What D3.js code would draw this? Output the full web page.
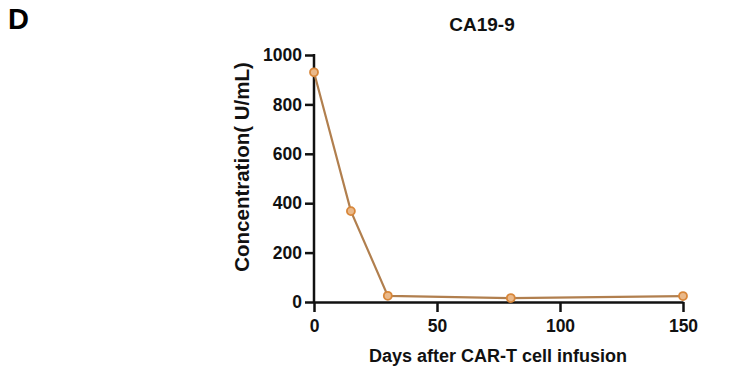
<!DOCTYPE html>
<html><head><meta charset="utf-8">
<script src="https://cdn.jsdelivr.net/npm/d3@7"></script>
<style>body{margin:0;background:#fff;}svg{display:block;font-family:Arial,"Liberation Sans",sans-serif;}</style>
</head><body><svg id="c" width="743" height="370"></svg>
<script>
const days = [0, 15, 30, 80, 150];
const conc = [930, 368, 25, 16, 24];
const xTicks = [0, 50, 100, 150];
const yTicks = [0, 200, 400, 600, 800, 1000];
const title = "CA19-9";
const xLabel = "Days after CAR-T cell infusion";
const yLabel = "Concentration( U/mL)";
const panel = "D";

const svg = d3.select("#c");
const x = d3.scaleLinear().domain([0, 150]).range([314, 683]);
const y = d3.scaleLinear().domain([0, 1000]).range([302, 55]);

const gx = svg.append("g").attr("transform", "translate(0,302)")
  .call(d3.axisBottom(x).tickValues(xTicks).tickFormat(d3.format("d")).tickSize(10).tickPadding(8).tickSizeOuter(0));
const gy = svg.append("g").attr("transform", "translate(314,0)")
  .call(d3.axisLeft(y).tickValues(yTicks).tickFormat(d3.format("d")).tickSize(9).tickPadding(3).tickSizeOuter(0));
[gx, gy].forEach(g => {
  g.select(".domain").attr("stroke", "#111").attr("stroke-width", 2.5);
  g.selectAll(".tick line").attr("stroke", "#111").attr("stroke-width", 2.5);
  g.selectAll(".tick text").attr("fill", "#111").style("font-size", "17.5px").style("font-weight", "bold");
});
gy.select(".domain").attr("d", `M0,${y(0)+1}V${y(1000)-1}`);

const line = d3.line().x((d, i) => x(days[i])).y(d => y(d));
svg.append("path").datum(conc).attr("d", line).attr("fill", "none")
  .attr("stroke", "#b17f4e").attr("stroke-width", 2.2);
svg.selectAll("circle.pt").data(conc).enter().append("circle")
  .attr("class", "pt").attr("cx", (d, i) => x(days[i])).attr("cy", d => y(d)).attr("r", 4)
  .attr("fill", "#eab98a").attr("stroke", "#d8873a").attr("stroke-width", 1.8);

svg.append("text").attr("x", 482).attr("y", 31).attr("text-anchor", "middle")
  .style("font-size", "19px").style("font-weight", "bold").attr("fill", "#111").text(title);
svg.append("text").attr("x", 498).attr("y", 362).attr("text-anchor", "middle")
  .style("font-size", "18px").style("font-weight", "bold").attr("fill", "#111").text(xLabel);
svg.append("text").attr("transform", "translate(249,167) rotate(-90)").attr("text-anchor", "middle")
  .style("font-size", "20.5px").style("font-weight", "bold").attr("fill", "#111").text(yLabel);
svg.append("text").attr("x", 8).attr("y", 29)
  .style("font-size", "29px").style("font-weight", "bold").attr("fill", "#000").text(panel);
</script></body></html>
